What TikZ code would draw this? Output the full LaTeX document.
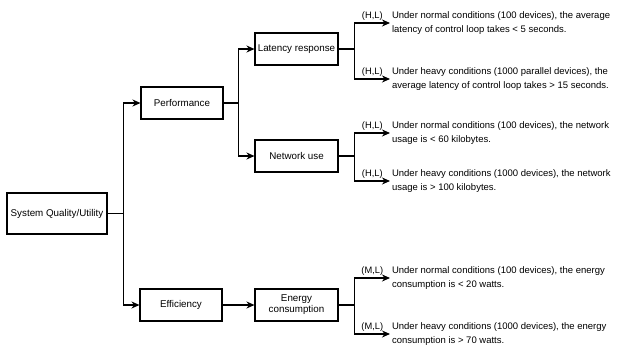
\documentclass[tikz,border=0pt]{standalone}
\usepackage{fontspec}
\setmainfont{Liberation Sans}
\usepackage{tikz}
\usetikzlibrary{arrows, arrows.meta}

\begin{document}
\begin{tikzpicture}[x=1pt, y=-1pt, line width=1.1pt]
\tikzstyle{box}=[rectangle, draw, line width=1.1pt, minimum width=83pt, minimum height=32pt, inner sep=2pt, align=center, font=\fontsize{9.8}{11}\selectfont]
\tikzstyle{arr}=[-{Stealth[length=8pt, width=7pt]}]
\tikzstyle{txt}=[anchor=west, align=left, inner sep=1.5pt, font=\fontsize{9.5}{14.5}\selectfont]
\tikzstyle{lbl}=[above, inner sep=2.5pt, font=\fontsize{9.3}{10}\selectfont]
\useasboundingbox (0,0) rectangle (622,349);

\node[box, minimum width=100pt, minimum height=41pt] (root) at (57,213.5) {System Quality/Utility};
\node[box, minimum width=82pt] (perf) at (182,103) {Performance};
\node[box, minimum width=82pt] (eff) at (181,305) {Efficiency};
\node[box] (lat) at (296.5,49) {Latency response};
\node[box] (net) at (296.5,156) {Network use};
\node[box] (energy) at (296.5,305) {Energy\\consumption};

\node[txt] (t1) at (390,23) {Under normal conditions (100 devices), the average\\latency of control loop takes < 5 seconds.};
\node[txt] (t2) at (390,79) {Under heavy conditions (1000 parallel devices), the\\average latency of control loop takes > 15 seconds.};
\node[txt] (t3) at (390,133) {Under normal conditions (100 devices), the network\\usage is < 60 kilobytes.};
\node[txt] (t4) at (390,181) {Under heavy conditions (1000 devices), the network\\usage is > 100 kilobytes.};
\node[txt] (t5) at (390,278) {Under normal conditions (100 devices), the energy\\consumption is < 20 watts.};
\node[txt] (t6) at (390,334) {Under heavy conditions (1000 devices), the energy\\consumption is > 70 watts.};

% tree
\draw[arr] (root.east) -- ++(16,0) |- (perf);
\draw[arr] (root.east) -- ++(16,0) |- (eff);
\draw[arr] (perf.east) -- ++(15,0) |- (lat);
\draw[arr] (perf.east) -- ++(15,0) |- (net);
\draw[arr] (eff) -- (energy);

% leaves
\draw[arr] (lat.east) -- ++(16,0) |- node[lbl, pos=0.75] {(H,L)} (t1.west);
\draw[arr] (lat.east) -- ++(16,0) |- node[lbl, pos=0.75] {(H,L)} (t2.west);
\draw[arr] (net.east) -- ++(16,0) |- node[lbl, pos=0.75] {(H,L)} (t3.west);
\draw[arr] (net.east) -- ++(16,0) |- node[lbl, pos=0.75] {(H,L)} (t4.west);
\draw[arr] (energy.east) -- ++(16,0) |- node[lbl, pos=0.75] {(M,L)} (t5.west);
\draw[arr] (energy.east) -- ++(16,0) |- node[lbl, pos=0.75] {(M,L)} (t6.west);

\end{tikzpicture}
\end{document}
